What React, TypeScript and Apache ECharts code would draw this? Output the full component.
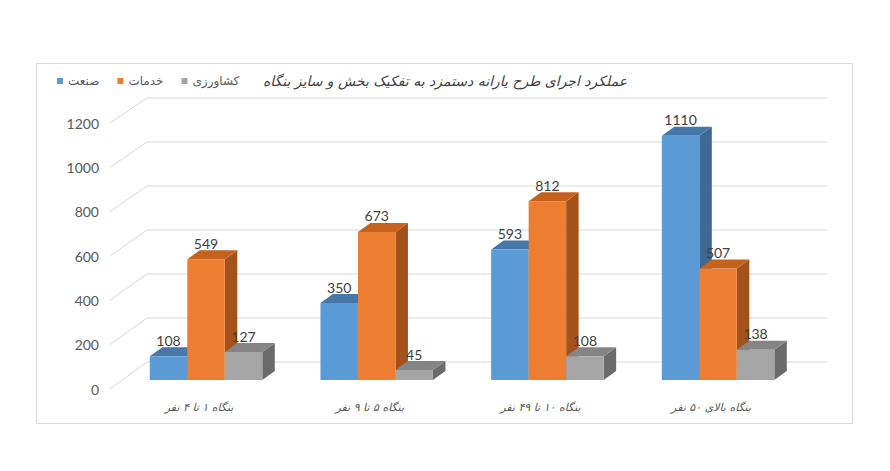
import React, { useEffect, useRef } from "react";
import * as echarts from "echarts";

const chartTitle = "عملکرد اجرای طرح یارانه دستمزد به تفکیک بخش و سایز بنگاه";
const categories = ["بنگاه ۱ تا ۴ نفر", "بنگاه ۵ تا ۹ نفر", "بنگاه ۱۰ تا ۴۹ نفر", "بنگاه بالای ۵۰ نفر"];
const seriesNames = ["صنعت", "خدمات", "کشاورزی"];
const industry = [108, 350, 593, 1110];
const services = [549, 673, 812, 507];
const agriculture = [127, 45, 108, 138];
const yTicks = [0, 200, 400, 600, 800, 1000, 1200];

const faceColors = [
  { front: "#5B9BD5", top: "#4677A8", side: "#3C6891" },
  { front: "#ED7D31", top: "#C4621E", side: "#A5521A" },
  { front: "#A5A5A5", top: "#858585", side: "#6B6B6B" },
];

const BAR_W = 37.5;
const DX = 12.5;
const DY = -9;
const GRID_COLOR = "#D9D9D9";

function makeBarRender(si: number) {
  return (params: any, api: any) => {
    const cat = api.value(0);
    const v = api.value(1);
    const p = api.coord([cat, v]);
    const cx = p[0];
    const top = p[1];
    const bottom = api.coord([cat, 0])[1];
    const x0 = cx - 1.5 * BAR_W + si * BAR_W;
    const x1 = x0 + BAR_W;
    const c = faceColors[si];
    return {
      type: "group",
      children: [
        {
          type: "polygon",
          shape: { points: [[x1, top], [x1 + DX, top + DY], [x1 + DX, bottom + DY], [x1, bottom]] },
          style: { fill: c.side },
        },
        {
          type: "polygon",
          shape: { points: [[x0, top], [x0 + DX, top + DY], [x1 + DX, top + DY], [x1, top]] },
          style: { fill: c.top },
        },
        {
          type: "rect",
          shape: { x: x0, y: top, width: BAR_W, height: bottom - top },
          style: { fill: c.front },
        },
        {
          type: "text",
          style: {
            text: String(v),
            x: x0 + BAR_W / 2,
            y: top - 16,
            align: "center",
            verticalAlign: "middle",
            fill: "#404040",
            fontSize: 14,
            fontFamily: "Lato",
          },
        },
      ],
    };
  };
}

const gridRender = (params: any, api: any) => {
  const v = api.value(1);
  const y = api.coord([0, v])[1];
  const y0 = api.coord([0, 0])[1];
  const yb = y - 18;
  const yf = y0 + 9 - ((y0 - y) * 266) / 264;
  return {
    type: "group",
    children: [
      { type: "line", shape: { x1: 147, y1: yb, x2: 827, y2: yb }, style: { stroke: GRID_COLOR, lineWidth: 1 } },
      { type: "line", shape: { x1: 110, y1: yf, x2: 147, y2: yb }, style: { stroke: GRID_COLOR, lineWidth: 1 } },
    ],
  };
};

export default function App() {
  const ref = useRef<HTMLDivElement>(null);
  useEffect(() => {
    if (!ref.current) return;
    const chart = echarts.init(ref.current, null, { renderer: "svg" });
    const valueSets = [industry, services, agriculture];
    const option: any = {
      animation: false,
      backgroundColor: "#FFFFFF",
      title: {
        text: chartTitle,
        left: "center",
        top: 69,
        textStyle: {
          fontFamily: "DejaVu Sans",
          fontStyle: "italic",
          fontWeight: "normal",
          fontSize: 14,
          color: "#404040",
        },
      },
      legend: {
        data: seriesNames,
        left: 52,
        top: 70,
        icon: "rect",
        itemWidth: 6,
        itemHeight: 6,
        itemGap: 18,
        textStyle: { fontFamily: "DejaVu Sans", fontSize: 12, color: "#595959" },
      },
      graphic: [
        {
          type: "rect",
          shape: { x: 36.5, y: 63.5, width: 816, height: 360 },
          style: { fill: "none", stroke: GRID_COLOR, lineWidth: 1 },
          silent: true,
          z: -10,
        },
      ],
      grid: [
        { left: 120.7, top: 116, width: 682.7, height: 264, outerBoundsMode: "none" },
        { left: 110, top: 123, width: 682.7, height: 266, outerBoundsMode: "none" },
      ],
      xAxis: [
        {
          type: "category",
          gridIndex: 0,
          data: categories,
          axisLine: { show: false },
          axisTick: { show: false },
          splitLine: { show: false },
          axisLabel: {
            margin: 22,
            fontFamily: "DejaVu Sans",
            fontStyle: "italic",
            fontSize: 11,
            color: "#595959",
            padding: [0, 14, 0, 0],
          },
        },
        { type: "value", gridIndex: 1, show: false },
      ],
      yAxis: [
        {
          type: "value",
          gridIndex: 0,
          min: 0,
          max: 1200,
          interval: 200,
          axisLine: { show: false },
          axisTick: { show: false },
          splitLine: { show: false },
          axisLabel: { show: false },
        },
        {
          type: "value",
          gridIndex: 1,
          min: 0,
          max: 1200,
          interval: 200,
          axisLine: { show: false },
          axisTick: { show: false },
          splitLine: { show: false },
          axisLabel: {
            margin: 11,
            fontFamily: "Lato",
            fontSize: 14,
            color: "#595959",
            formatter: (v: number) => String(v),
          },
        },
      ],
      series: [
        {
          type: "custom",
          silent: true,
          renderItem: gridRender,
          data: yTicks.map((v) => [0, v]),
          z: 1,
        },
        ...seriesNames.map((name, si) => ({
          type: "custom",
          name,
          silent: true,
          itemStyle: { color: faceColors[si].front },
          renderItem: makeBarRender(si),
          data: valueSets[si].map((v, i) => [i, v]),
          z: 2,
        })),
      ],
    };
    chart.setOption(option);
    return () => chart.dispose();
  }, []);
  return (
    <div
      ref={ref}
      style={{ position: "absolute", left: 0, top: 0, width: 890, height: 471 }}
    />
  );
}
